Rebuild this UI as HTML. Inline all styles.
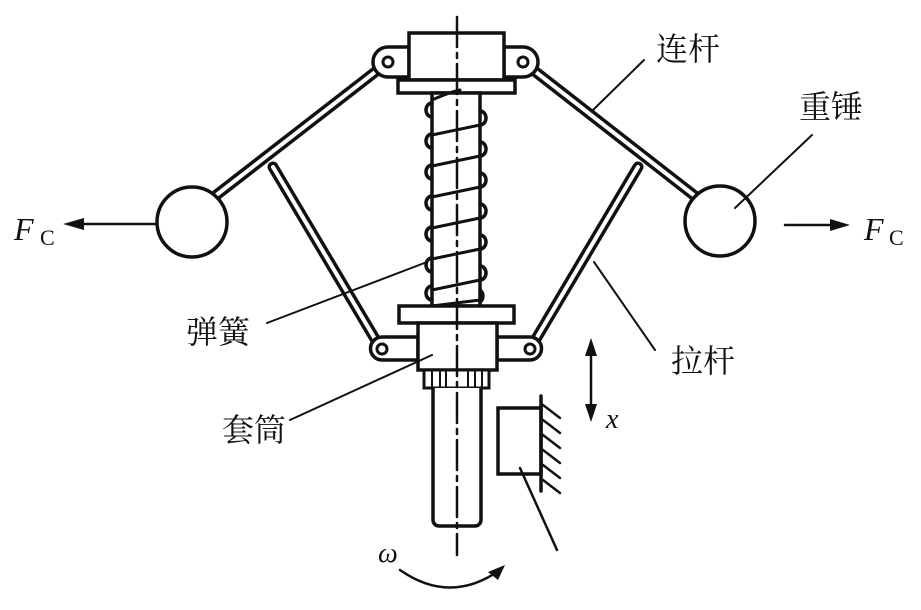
<!DOCTYPE html>
<html><head><meta charset="utf-8"><style>
html,body{margin:0;padding:0;background:#fff;}
svg{display:block}
text{font-family:"Liberation Serif","Noto Serif CJK SC",serif;fill:#111}
.cn{font-family:"Liberation Serif","Noto Serif CJK SC","Noto Sans CJK SC",serif;font-size:32px}
</style></head><body>
<svg width="921" height="610" viewBox="0 0 921 610" xmlns="http://www.w3.org/2000/svg">
<g stroke="#111" fill="none" stroke-linecap="round">
<!-- upper links (hollow bars) -->
<line x1="388" y1="62" x2="210" y2="200" stroke-width="11"/>
<line x1="388" y1="62" x2="210" y2="200" stroke-width="4" stroke="#fff"/>
<line x1="523" y1="62" x2="700" y2="200" stroke-width="11"/>
<line x1="523" y1="62" x2="700" y2="200" stroke-width="4" stroke="#fff"/>
<!-- drag links -->
<line x1="273" y1="167" x2="381" y2="349" stroke-width="11"/>
<line x1="273" y1="167" x2="381" y2="349" stroke-width="4" stroke="#fff"/>
<line x1="638" y1="167" x2="530" y2="349" stroke-width="11"/>
<line x1="638" y1="167" x2="530" y2="349" stroke-width="4" stroke="#fff"/>
<!-- balls -->
<circle cx="192" cy="222" r="35" fill="#fff" stroke-width="3.5"/>
<circle cx="720" cy="221" r="35" fill="#fff" stroke-width="3.5"/>
<!-- top ears -->
<path d="M409 47 H388 A15 15 0 0 0 388 77 H409 Z" fill="#fff" stroke-width="3.5"/>
<path d="M504 47 H523 A15 15 0 0 1 523 77 H504 Z" fill="#fff" stroke-width="3.5"/>
<circle cx="388" cy="62" r="5" stroke-width="3"/>
<circle cx="523" cy="62" r="5" stroke-width="3"/>
<rect x="409" y="33" width="95" height="47" fill="#fff" stroke-width="3.5"/>
<rect x="398" y="80" width="117" height="13" fill="#fff" stroke-width="3.5"/>
<!-- shaft -->
<rect x="432" y="93" width="48" height="213" fill="#fff" stroke-width="3.5"/>
<!-- spring -->
<g stroke-width="3">
<path d="M432 100 Q450 92 460 90"/>
<line x1="432" y1="135" x2="480" y2="125"/>
<line x1="432" y1="166" x2="480" y2="156"/>
<line x1="432" y1="197" x2="480" y2="187"/>
<line x1="432" y1="228" x2="480" y2="218"/>
<line x1="432" y1="259" x2="480" y2="249"/>
<line x1="432" y1="290" x2="480" y2="280"/>
<line x1="432" y1="306" x2="480" y2="300"/>
</g>
<g stroke-width="3.5">
<path d="M432 103 a6 7 0 0 0 0 14"/><path d="M432 134 a6 7 0 0 0 0 14"/><path d="M432 165 a6 7 0 0 0 0 14"/><path d="M432 196 a6 7 0 0 0 0 14"/><path d="M432 227 a6 7 0 0 0 0 14"/><path d="M432 258 a6 7 0 0 0 0 14"/><path d="M432 286 a6 7 0 0 0 0 14"/>
<path d="M480 111 a6 7 0 0 1 0 14"/><path d="M480 142 a6 7 0 0 1 0 14"/><path d="M480 173 a6 7 0 0 1 0 14"/><path d="M480 204 a6 7 0 0 1 0 14"/><path d="M480 235 a6 7 0 0 1 0 14"/><path d="M480 266 a6 7 0 0 1 0 14"/><path d="M480 290 a6 7 0 0 1 0 12"/>
</g>
<!-- lower flange & sleeve -->
<rect x="399" y="306" width="115" height="17" fill="#fff" stroke-width="3.5"/>
<path d="M418 337 H382 A11 11 0 0 0 382 360 H418 Z" fill="#fff" stroke-width="3.5"/>
<path d="M497 337 H530 A11 11 0 0 1 530 360 H497 Z" fill="#fff" stroke-width="3.5"/>
<circle cx="382" cy="349" r="5" stroke-width="3"/>
<circle cx="530" cy="349" r="5" stroke-width="3"/>
<rect x="418" y="323" width="79" height="47" fill="#fff" stroke-width="3.5"/>
<rect x="424" y="370" width="65" height="18" fill="#fff" stroke-width="3"/>
<g stroke-width="2"><line x1="432" y1="372" x2="432" y2="386"/><line x1="440" y1="372" x2="440" y2="386"/><line x1="446" y1="372" x2="446" y2="386"/><line x1="468" y1="372" x2="468" y2="386"/><line x1="475" y1="372" x2="475" y2="386"/><line x1="482" y1="372" x2="482" y2="386"/></g>
<path d="M433 388 V520 a6 6 0 0 0 6 6 H475 a6 6 0 0 0 6 -6 V388" fill="#fff" stroke-width="3.5"/>
<!-- center line -->
<line x1="457" y1="17" x2="457" y2="555" stroke-width="2.5" stroke-dasharray="30 6 5 6"/>
<!-- sensor block -->
<rect x="498" y="408" width="43" height="66" fill="#fff" stroke-width="3.5"/>
<line x1="541" y1="396" x2="541" y2="491" stroke-width="3.5"/>
<g stroke-width="2.5"><line x1="543" y1="405" x2="560" y2="418"/><line x1="543" y1="420" x2="560" y2="433"/><line x1="543" y1="435" x2="560" y2="448"/><line x1="543" y1="450" x2="560" y2="463"/><line x1="543" y1="465" x2="560" y2="478"/><line x1="543" y1="480" x2="560" y2="493"/></g>
<line x1="520" y1="468" x2="557" y2="550" stroke-width="2.5"/>
<!-- omega arc -->
<path d="M400 570 Q450 605 500 570" stroke-width="2.5"/>
<!-- leaders -->
<g stroke-width="2">
<line x1="644" y1="60" x2="593" y2="110"/>
<line x1="812" y1="135" x2="735" y2="208"/>
<line x1="267" y1="323" x2="427" y2="262"/>
<line x1="655" y1="350" x2="594" y2="262"/>
<line x1="290" y1="420" x2="432" y2="355"/>
</g>
<!-- force arrows -->
<line x1="155" y1="224" x2="75" y2="224" stroke-width="2.5"/>
<line x1="785" y1="225" x2="840" y2="225" stroke-width="2.5"/>
<line x1="591" y1="350" x2="591" y2="410" stroke-width="2.5"/>
</g>
<g fill="#111">
<polygon points="63,224 84,218 84,230"/>
<polygon points="850,225 830,219 830,231"/>
<polygon points="591,338 585,356 597,356"/>
<polygon points="591,422 585,404 597,404"/>
<polygon points="505,565 488,572 498,580"/>
</g>
<text x="14" y="240" font-size="32" font-style="italic">F</text>
<text x="40" y="245" font-size="22">C</text>
<text x="864" y="240" font-size="32" font-style="italic">F</text>
<text x="889" y="245" font-size="22">C</text>
<text x="606" y="428" font-size="28" font-style="italic">x</text>
<text x="378" y="562" font-size="28" font-style="italic">ω</text>
<text class="cn" x="656" y="60">连杆</text>
<text class="cn" x="799" y="118">重锤</text>
<text class="cn" x="186" y="343">弹簧</text>
<text class="cn" x="671" y="372">拉杆</text>
<text class="cn" x="222" y="441">套筒</text>
</svg>
</body></html>
